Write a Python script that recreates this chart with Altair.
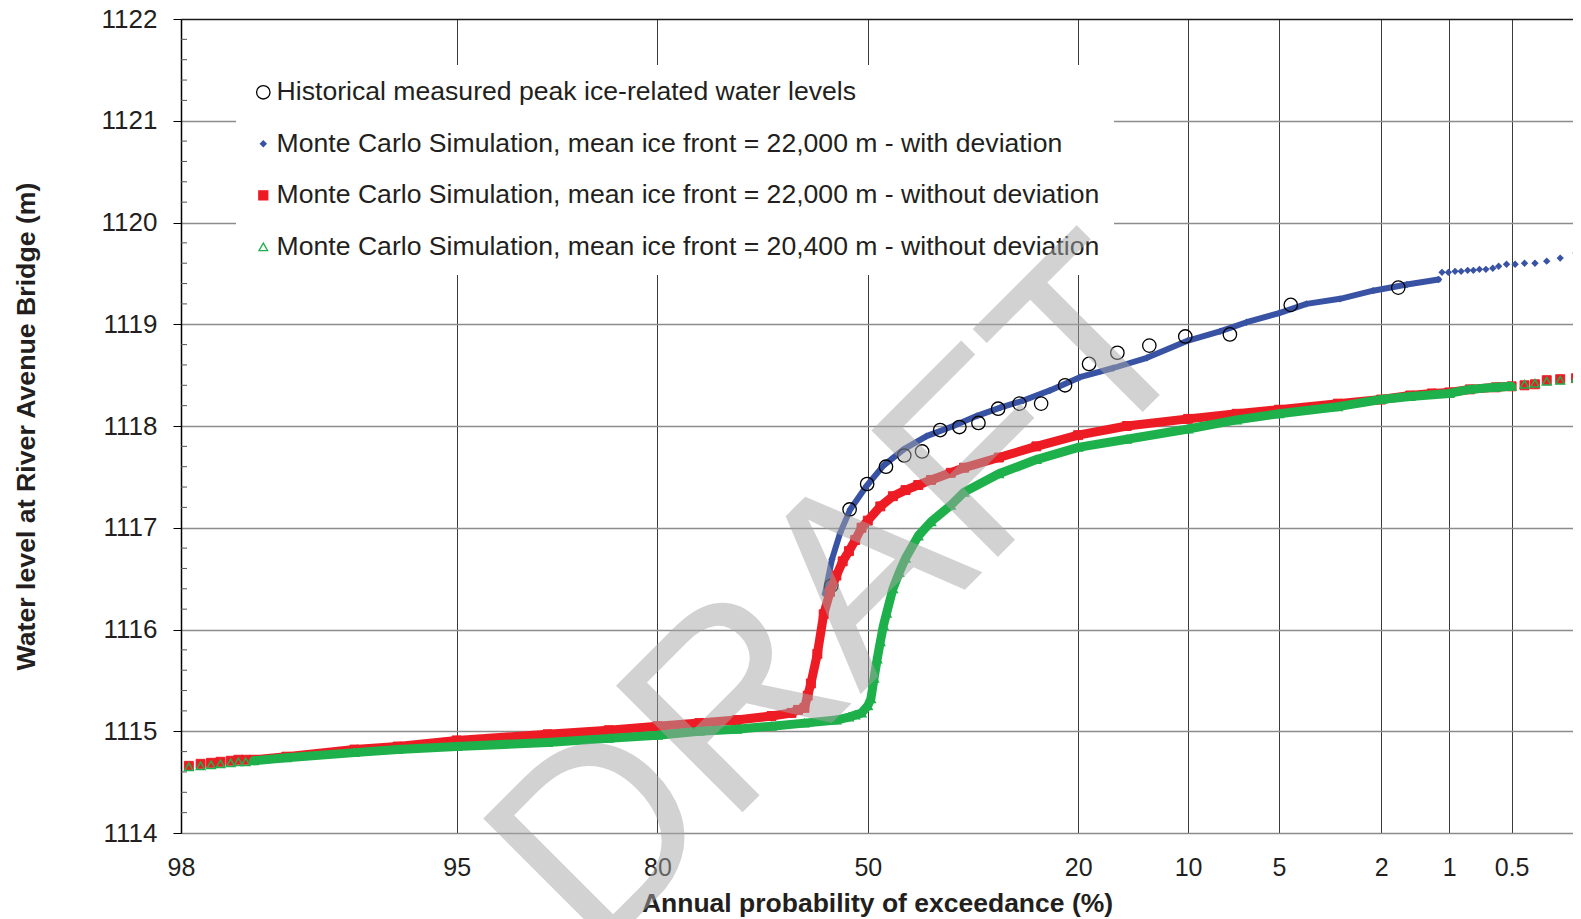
import json
from statistics import NormalDist

import altair as alt
import pandas as pd

# ---------------------------------------------------------------- data
SERIES = [
    "Historical measured peak ice-related water levels",
    "Monte Carlo Simulation, mean ice front = 22,000 m - with deviation",
    "Monte Carlo Simulation, mean ice front = 22,000 m - without deviation",
    "Monte Carlo Simulation, mean ice front = 20,400 m - without deviation",
]

# annual probability of exceedance (%) and water level (m)
HIST_P = [55.8, 52.9, 50.1, 47.1, 44.2, 41.4, 38.6, 35.7, 32.9, 30.1,
          27.2, 24.4, 21.5, 18.8, 15.9, 13.0, 10.2, 7.37, 4.53, 1.69]
HIST_LEVEL = [1116.43, 1117.18, 1117.43, 1117.60, 1117.71, 1117.75, 1117.96, 1117.99, 1118.03, 1118.17,
              1118.22, 1118.22, 1118.40, 1118.61, 1118.72, 1118.79, 1118.88, 1118.90, 1119.19, 1119.36]

BLUE_P = [56.8, 55.7, 54.4, 52.8, 50.2, 47.5, 44.3, 40.7, 36.6, 33.1, 29.8, 26.7, 23.3,
          19.8, 16.3, 13.2, 10.0, 7.94, 6.48, 4.99, 3.96, 2.94, 2.16, 1.55, 1.12]
BLUE_LEVEL = [1116.35, 1116.69, 1116.95, 1117.18, 1117.41, 1117.61, 1117.77, 1117.90, 1118.00, 1118.10,
              1118.18, 1118.25, 1118.35, 1118.48, 1118.57, 1118.67, 1118.84, 1118.93, 1119.02, 1119.11,
              1119.20, 1119.25, 1119.33, 1119.39, 1119.44]
BLUE_TAIL_P = [1.08, 1.01, 0.94, 0.88, 0.82, 0.77, 0.72, 0.67, 0.62, 0.58, 0.53, 0.48, 0.43, 0.38, 0.33, 0.28, 0.23]
BLUE_TAIL_LEVEL = [1119.51, 1119.51, 1119.52, 1119.52, 1119.53, 1119.53, 1119.54, 1119.54, 1119.55,
                   1119.57, 1119.59, 1119.59, 1119.60, 1119.60, 1119.62, 1119.65, 1119.70]

RED_P = [99.3, 99, 98, 97, 95, 90, 85, 80, 75, 70, 65, 62, 61, 60, 59.5, 59, 58, 57, 56, 55,
         54, 53, 52, 51, 50, 48, 46, 44, 42, 40, 37, 35, 30, 25, 20, 15, 10, 7, 5, 3,
         2, 1.5, 1.2, 1, 0.8, 0.6, 0.5]
RED_LEVEL = [1114.72, 1114.75, 1114.82, 1114.85, 1114.91, 1114.97, 1115.01, 1115.05, 1115.08, 1115.11,
             1115.15, 1115.18, 1115.21, 1115.23, 1115.35, 1115.47, 1115.76, 1116.15, 1116.37, 1116.53,
             1116.67, 1116.77, 1116.88, 1117.00, 1117.07, 1117.21, 1117.31, 1117.37, 1117.42, 1117.47,
             1117.54, 1117.59, 1117.69, 1117.80, 1117.91, 1118.00, 1118.07, 1118.12, 1118.16, 1118.22,
             1118.26, 1118.30, 1118.32, 1118.33, 1118.36, 1118.38, 1118.39]
RED_TAIL_P = [99.67, 99.62, 99.57, 99.52, 99.46, 99.41, 99.36, 0.43, 0.38, 0.33, 0.28, 0.23]
RED_TAIL_LEVEL = [1114.66, 1114.68, 1114.69, 1114.70, 1114.71, 1114.72, 1114.72,
                  1118.40, 1118.41, 1118.45, 1118.46, 1118.47]

GREEN_P = [99.3, 99, 98, 97, 95, 90, 85, 80, 75, 70, 65, 60, 55, 53, 52, 51, 50, 49.5, 49, 48.5,
           48, 47.5, 47, 46, 45, 44, 42, 40, 37, 35, 30, 25, 20, 15, 10, 7, 5, 3, 2, 1.5,
           1, 0.8, 0.6, 0.5]
GREEN_LEVEL = [1114.71, 1114.74, 1114.79, 1114.82, 1114.85, 1114.89, 1114.93, 1114.96, 1115.00, 1115.02,
               1115.05, 1115.08, 1115.11, 1115.14, 1115.16, 1115.18, 1115.25, 1115.32, 1115.52, 1115.71,
               1115.88, 1116.04, 1116.16, 1116.40, 1116.56, 1116.70, 1116.92, 1117.06, 1117.22, 1117.35,
               1117.53, 1117.67, 1117.79, 1117.87, 1117.97, 1118.06, 1118.12, 1118.19, 1118.26, 1118.29,
               1118.32, 1118.36, 1118.38, 1118.39]
GREEN_TAIL_P = [99.67, 99.62, 99.57, 99.52, 99.46, 99.41, 99.36, 0.43, 0.38, 0.33, 0.28, 0.23]
GREEN_TAIL_LEVEL = [1114.65, 1114.66, 1114.67, 1114.68, 1114.69, 1114.70, 1114.70,
                    1118.41, 1118.42, 1118.44, 1118.45, 1118.47]

# axis
X_TICK_LABELS = ["98", "95", "80", "50", "20", "10", "5", "2", "1", "0.5"]
X_TICK_P = [99.7, 95, 80, 50, 20, 10, 5, 2, 1, 0.5]   # "98" is printed at the left end of the axis
X_DOMAIN_P = [99.7, 0.239]
Y_DOMAIN = [1114, 1122]
Y_MAJOR = [1114, 1115, 1116, 1117, 1118, 1119, 1120, 1121, 1122]
Y_MINOR = [m + f for m in Y_MAJOR[:-1] for f in (0.2, 0.4, 0.6, 0.8)]

WATERMARK_TEXT = "DRAFT"

# ---------------------------------------------------------------- helpers
ND = NormalDist()


def zval(p):
    """probability-paper coordinate (standard normal variate) of an exceedance %"""
    return ND.inv_cdf(1 - p / 100.0)


def frame(series, ps, levels):
    return pd.DataFrame({"series": series, "p": ps, "level": levels, "z": [zval(p) for p in ps]})


FONT = "Liberation Sans"
INK = "#231f20"
BLUE, RED, GREEN = "#3953a4", "#ed1c24", "#1eb04b"

tick_z = [zval(p) for p in X_TICK_P]
label_expr = f"{json.dumps(X_TICK_LABELS)}[indexof({json.dumps(tick_z)}, datum.value)]"

X = alt.X(
    "z:Q",
    scale=alt.Scale(domain=[zval(p) for p in X_DOMAIN_P], nice=False, zero=False),
    axis=alt.Axis(
        values=tick_z, labelExpr=label_expr, title="Annual probability of exceedance (%)",
        grid=True, gridColor="#3a3a3a", gridWidth=1, ticks=False, tickSize=0, domain=False,
        labelFont=FONT, labelFontSize=25, labelColor=INK, labelFlush=False, labelPadding=22,
        titleFont=FONT, titleFontSize=26.5, titleFontWeight="bold", titleColor=INK, titlePadding=10,
    ),
)
Y = alt.Y(
    "level:Q",
    scale=alt.Scale(domain=Y_DOMAIN, nice=False, zero=False),
    axis=alt.Axis(
        values=Y_MAJOR, format="d", title="Water level at River Avenue Bridge (m)",
        grid=True,
        gridColor={"condition": {"test": f"datum.value == {Y_DOMAIN[1]}", "value": "#1a1a1a"},
                   "value": "#8c8c8c"},
        gridWidth=1.5, tickSize=8, tickColor="#000000",
        domainColor="#000000", domainWidth=1.5,
        labelFont=FONT, labelFontSize=26, labelColor=INK, labelPadding=16,
        titleFont=FONT, titleFontSize=26.7, titleFontWeight="bold", titleColor=INK, titlePadding=61,
    ),
)

LEG = alt.Legend(
    title=None, orient="none", legendX=55, legendY=46, direction="vertical",
    fillColor="white", padding=14, rowPadding=24.5, labelOffset=0,
    labelFont=FONT, labelFontSize=26.6, labelColor=INK, labelLimit=2000,
    symbolStrokeWidth=1.3,
)
SHAPES = ["circle", "diamond", "square", "triangle-up"]
FILLS = ["transparent", BLUE, RED, "transparent"]
STROKES = ["#000000", BLUE, RED, GREEN]
SIZES = [180, 32, 80, 75]


def points(df, stroke_width):
    return alt.Chart(df).mark_point(opacity=1, strokeWidth=stroke_width).encode(
        x=X, y=Y,
        shape=alt.Shape("series:N", scale=alt.Scale(domain=SERIES, range=SHAPES), legend=LEG),
        fill=alt.Fill("series:N", scale=alt.Scale(domain=SERIES, range=FILLS), legend=LEG),
        stroke=alt.Stroke("series:N", scale=alt.Scale(domain=SERIES, range=STROKES), legend=LEG),
        size=alt.Size("series:N", scale=alt.Scale(type="ordinal", domain=SERIES, range=SIZES), legend=LEG),
    )


def line(df, color, width):
    return alt.Chart(df).mark_line(color=color, strokeWidth=width, strokeCap="round",
                                   strokeJoin="round").encode(x=X, y=Y)


hist = frame(SERIES[0], HIST_P, HIST_LEVEL)
blue = frame(SERIES[1], BLUE_P, BLUE_LEVEL)
blue_all = pd.concat([blue, frame(SERIES[1], BLUE_TAIL_P, BLUE_TAIL_LEVEL)])
red = frame(SERIES[2], RED_P, RED_LEVEL)
red_all = pd.concat([red, frame(SERIES[2], RED_TAIL_P, RED_TAIL_LEVEL)])
green = frame(SERIES[3], GREEN_P, GREEN_LEVEL)
green_all = pd.concat([green, frame(SERIES[3], GREEN_TAIL_P, GREEN_TAIL_LEVEL)])

minor = alt.Chart(pd.DataFrame({"level": Y_MINOR})).mark_rule(color="#555555", strokeWidth=1).encode(
    y=Y, x=alt.value(0), x2=alt.value(6))

# the "DRAFT" stamp is drawn as the (rotated, translucent) chart title so that it lies over everything,
# legend included, as in the original
stamp = alt.TitleParams(
    text=WATERMARK_TEXT, orient="none", anchor="start", frame="group", offset=0,
    angle=315, font=FONT, fontSize=260, fontWeight="normal", color="rgba(166,166,166,0.5)",
    align="left", baseline="alphabetic", dx=-373, dy=958,
)

chart = alt.layer(
    minor,
    line(blue, BLUE, 6),
    points(blue_all, 1.2),
    points(hist, 1.3),
    line(red, RED, 9),
    points(red_all, 1.0),
    line(green, GREEN, 9),
    points(green_all, 1.5),
).properties(
    title=stamp,
    width=1392, height=814,
    padding={"left": 173, "top": 11, "right": 0, "bottom": 92},
    autosize=alt.AutoSizeParams(type="none"),
    background="white",
).configure_view(stroke="transparent")

chart.save("out.html", embed_options={"renderer": "svg", "actions": False})
